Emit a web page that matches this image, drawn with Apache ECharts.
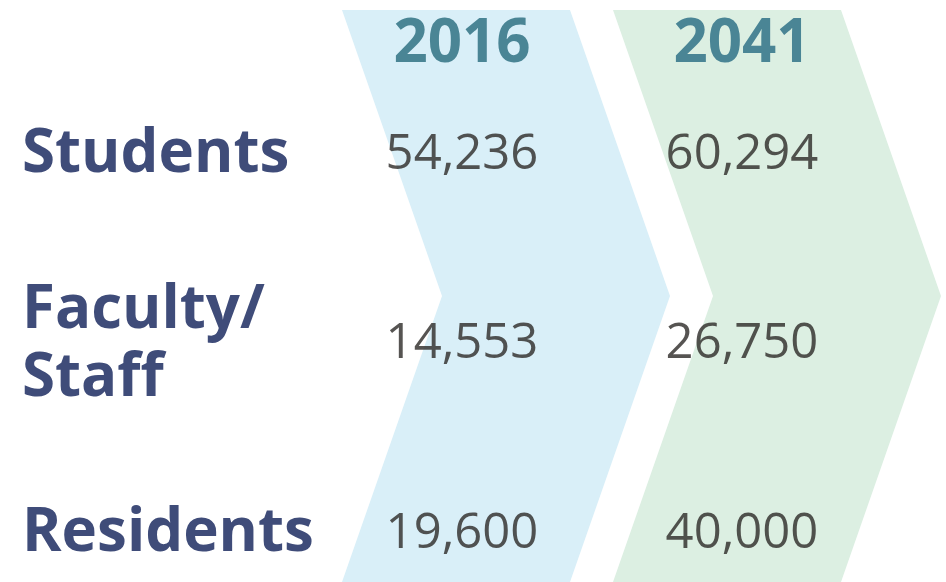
<!DOCTYPE html>
<html>
<head>
<meta charset="utf-8">
<script src="https://cdn.jsdelivr.net/npm/echarts@6/dist/echarts.min.js"></script>
<style>
  html, body { margin: 0; padding: 0; background: #fff; }
  #main { width: 946px; height: 582px; }
</style>
</head>
<body>
<div id="main"></div>
<script>
// years across the top, groups down the side
var years = ['2016', '2041'];
var groups = ['Students', 'Faculty/\nStaff', 'Residents'];
var values2016 = [54236, 14553, 19600];
var values2041 = [60294, 26750, 40000];
var chevronColors = ['#d9eff8', '#dcefe2'];

var mychart = echarts.init(document.getElementById('main'));

var valuePoints = [];
for (var i = 0; i < groups.length; i++) {
    valuePoints.push([0, i, values2016[i]]);
    valuePoints.push([1, i, values2041[i]]);
}

// chevron left edge relative to column centre
var chevronShift = [-120, -129];

function renderChevron(params, api) {
    var idx = api.value(0);
    var cx = api.coord([idx, 0])[0];
    var h = api.getHeight();
    var top = 10, bottom = h, mid = (top + bottom) / 2;
    var left = cx + chevronShift[idx];
    var w = 228, depth = 100;
    return {
        type: 'polygon',
        shape: {
            points: [
                [left, top], [left + w, top], [left + w + depth, mid],
                [left + w, bottom], [left, bottom], [left + depth, mid]
            ]
        },
        style: { fill: chevronColors[idx] }
    };
}

option = {
    animation: false,
    backgroundColor: '#ffffff',
    grid: {
        left: 322,
        right: 64,
        top: 155,
        bottom: 48
    },
    xAxis: {
        type: 'category',
        position: 'top',
        data: years,
        z: 10,
        axisLine: { show: false },
        axisTick: { show: false },
        splitLine: { show: false },
        axisLabel: {
            margin: 110,
            verticalAlign: 'middle',
            color: '#4a8595',
            fontFamily: 'Open Sans',
            fontWeight: 'bold',
            fontSize: 60
        }
    },
    yAxis: {
        type: 'category',
        inverse: true,
        boundaryGap: false,
        data: groups,
        z: 10,
        axisLine: { show: false },
        axisTick: { show: false },
        splitLine: { show: false },
        axisLabel: {
            margin: 300,
            align: 'left',
            color: '#3f4c79',
            fontFamily: 'Open Sans',
            fontWeight: 'bold',
            fontSize: 60,
            lineHeight: 68
        }
    },
    series: [
        {
            type: 'custom',
            z: 0,
            silent: true,
            renderItem: renderChevron,
            data: [[0], [1]]
        },
        {
            type: 'scatter',
            z: 5,
            symbolSize: 0,
            data: valuePoints,
            label: {
                show: true,
                position: 'inside',
                color: '#2c2927',
                fontFamily: 'Open Sans',
                fontWeight: 'normal',
                fontSize: 49,
                formatter: function (p) {
                    return p.value[2].toLocaleString('en-US');
                }
            }
        }
    ]
};
mychart.setOption(option);
</script>
</body>
</html>
